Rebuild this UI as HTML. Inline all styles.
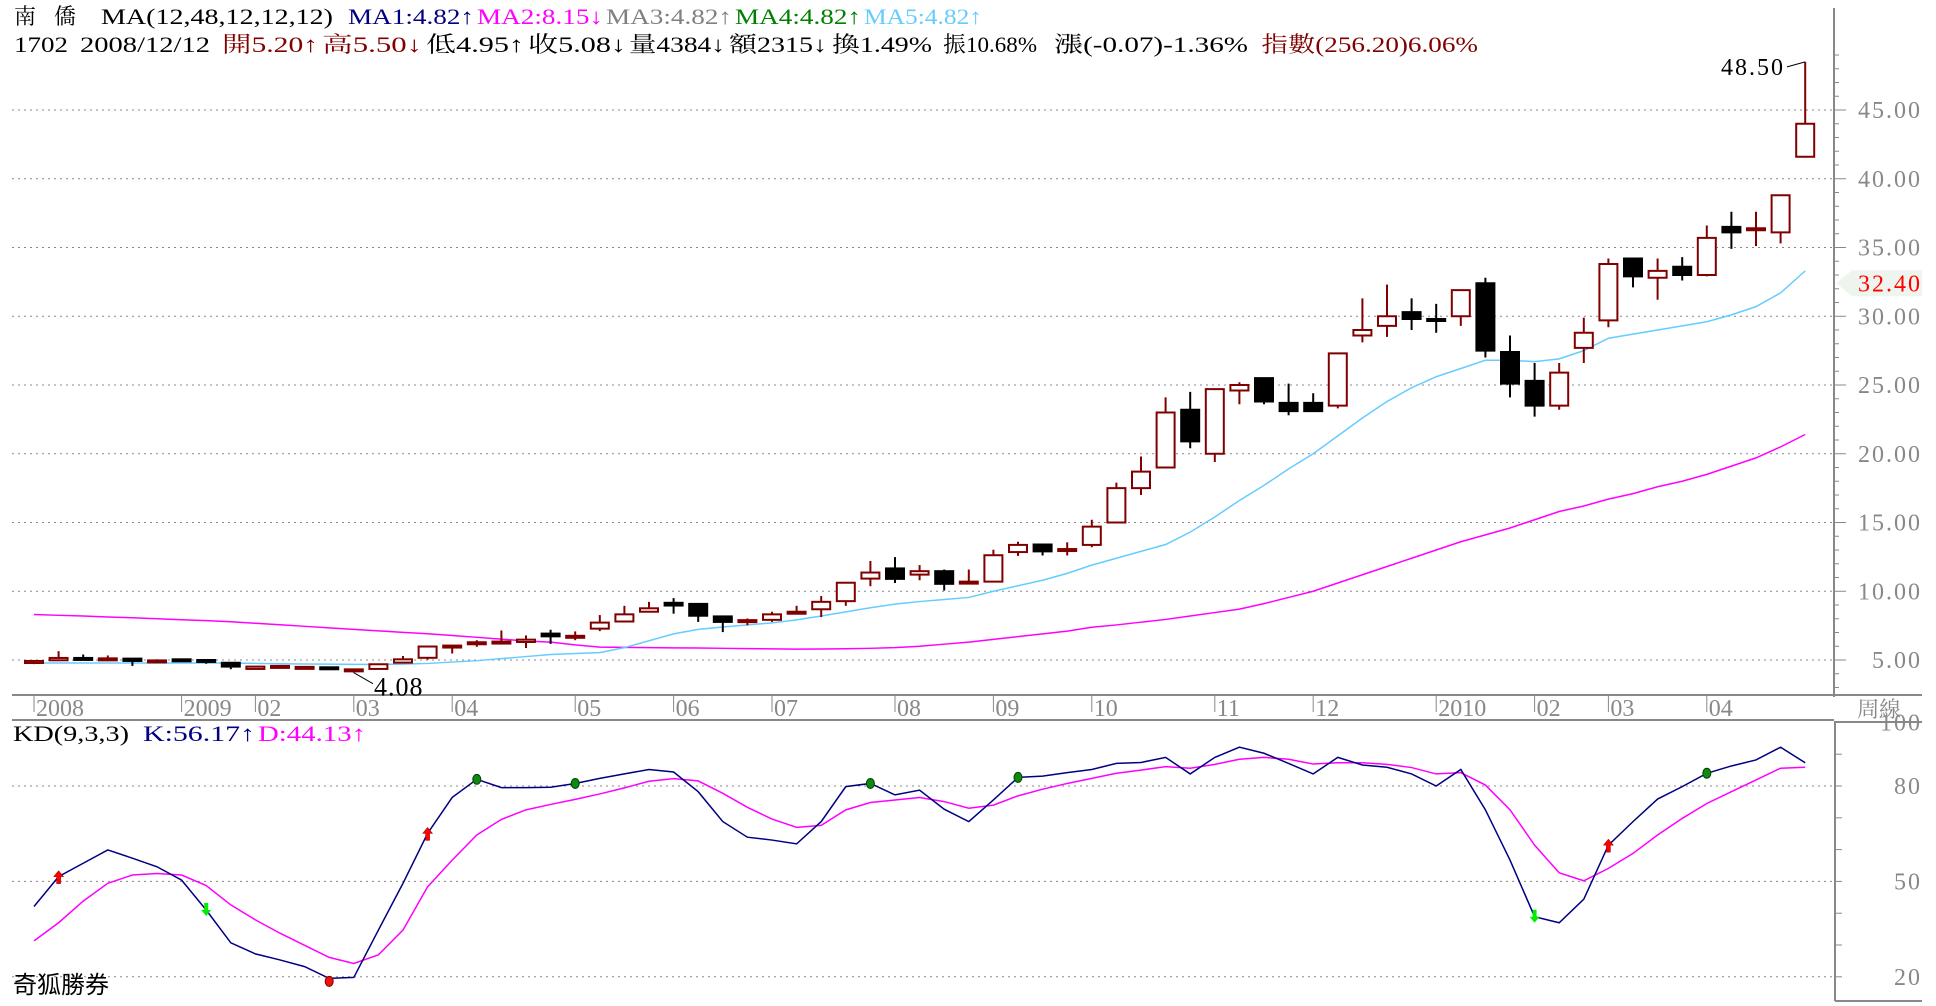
<!DOCTYPE html>
<html><head><meta charset="utf-8"><style>
html,body{margin:0;padding:0;background:#fff;}
svg{display:block;font-family:"Liberation Serif","Noto Serif CJK TC","Noto Sans CJK TC",serif;}
</style></head><body>
<svg id="chart" width="1936" height="1006" viewBox="0 0 1936 1006" xmlns="http://www.w3.org/2000/svg">
<g font-size="22">
<text x="14" y="24" fill="#000">南</text>
<text x="54" y="24" fill="#000">僑</text>
<text x="101" y="24" fill="#000" textLength="232" lengthAdjust="spacingAndGlyphs">MA(12,48,12,12,12)</text>
<text x="348" y="24" fill="#000080" textLength="126" lengthAdjust="spacingAndGlyphs">MA1:4.82↑</text>
<text x="477" y="24" fill="#ff00ff" textLength="126" lengthAdjust="spacingAndGlyphs">MA2:8.15↓</text>
<text x="606" y="24" fill="#808080" textLength="126" lengthAdjust="spacingAndGlyphs">MA3:4.82↑</text>
<text x="735" y="24" fill="#008000" textLength="126" lengthAdjust="spacingAndGlyphs">MA4:4.82↑</text>
<text x="864" y="24" fill="#66ccff" textLength="118" lengthAdjust="spacingAndGlyphs">MA5:4.82↑</text>
<text x="14" y="52" fill="#000" textLength="54" lengthAdjust="spacingAndGlyphs">1702</text>
<text x="80" y="52" fill="#000" textLength="130" lengthAdjust="spacingAndGlyphs">2008/12/12</text>
<text x="222" y="52" fill="#800000" textLength="96" lengthAdjust="spacingAndGlyphs">開5.20↑</text>
<text x="322" y="52" fill="#800000" textLength="100" lengthAdjust="spacingAndGlyphs">高5.50↓</text>
<text x="426" y="52" fill="#000" textLength="98" lengthAdjust="spacingAndGlyphs">低4.95↑</text>
<text x="528" y="52" fill="#000" textLength="98" lengthAdjust="spacingAndGlyphs">收5.08↓</text>
<text x="629" y="52" fill="#000" textLength="96" lengthAdjust="spacingAndGlyphs">量4384↓</text>
<text x="729" y="52" fill="#000" textLength="98" lengthAdjust="spacingAndGlyphs">額2315↓</text>
<text x="832" y="52" fill="#000" textLength="100" lengthAdjust="spacingAndGlyphs">換1.49%</text>
<text x="943" y="52" fill="#000" textLength="94" lengthAdjust="spacingAndGlyphs">振10.68%</text>
<text x="1054" y="52" fill="#000" textLength="194" lengthAdjust="spacingAndGlyphs">漲(-0.07)-1.36%</text>
<text x="1261" y="52" fill="#800000" textLength="217" lengthAdjust="spacingAndGlyphs">指數(256.20)6.06%</text>
</g>
<g id="frame" stroke="#888" stroke-width="2" fill="none">
<line x1="1834" y1="8" x2="1834" y2="697"/>
<line x1="12" y1="695" x2="1922" y2="695"/>
<line x1="12" y1="720" x2="1834" y2="720"/>
<line x1="1834" y1="722" x2="1922" y2="722"/>
<line x1="1835" y1="722" x2="1835" y2="1001"/>
<line x1="1835" y1="1001" x2="1922" y2="1001"/>
</g>
<g id="grid"></g>
<g id="yaxis"></g>
<g id="xaxis"></g>
<g id="ma"></g>
<g id="candles"></g>
<g id="kd"></g>
<text x="1857" y="717" font-size="22" fill="#888">周線</text>
<g font-size="22">
<text x="13" y="741" fill="#000" textLength="116" lengthAdjust="spacingAndGlyphs">KD(9,3,3)</text>
<text x="143" y="741" fill="#000080" textLength="112" lengthAdjust="spacingAndGlyphs">K:56.17↑</text>
<text x="258" y="741" fill="#ff00ff" textLength="108" lengthAdjust="spacingAndGlyphs">D:44.13↑</text>
</g>
<text x="13" y="993" font-size="24" fill="#000" font-family="'Noto Sans CJK TC',sans-serif">奇狐勝券</text>
</svg>
<script>
const opens  = [4.78,4.98,5.15,5.08,5.10,4.88,5.05,5.00,4.80,4.35,4.57,4.50,4.47,4.32,4.35,4.81,5.16,6.05,6.29,6.24,6.31,6.92,6.76,7.28,7.80,8.51,9.16,9.08,8.17,7.90,7.92,8.39,8.69,9.28,10.92,11.66,11.21,11.46,10.70,10.70,12.85,13.40,13.07,13.37,15.0,17.5,19.0,23.2,20.0,24.6,25.5,23.7,23.7,23.5,28.6,29.3,30.3,29.8,30.0,32.4,27.4,25.3,23.5,27.7,29.7,34.2,32.8,33.6,33.0,36.5,36.4,36.1,41.6];
const closes = [4.93,5.15,5.13,5.12,4.93,4.97,4.93,4.86,4.52,4.52,4.57,4.50,4.35,4.32,4.69,5.05,5.98,6.05,6.29,6.34,6.48,6.72,6.76,7.72,8.32,8.76,8.96,8.22,7.77,7.90,8.32,8.51,9.23,10.62,11.36,10.90,11.46,10.54,10.70,12.62,13.37,12.90,13.07,14.70,17.5,18.7,23.0,20.9,24.7,25.0,23.8,23.1,23.1,27.3,29.0,30.0,29.8,29.7,31.9,27.5,25.1,23.5,25.9,28.8,33.8,32.9,33.3,33.0,35.7,36.1,36.4,38.8,44.0];
const highs  = [4.95,5.64,5.40,5.33,5.10,5.05,5.10,5.00,4.80,4.52,4.62,4.52,4.47,4.32,4.69,5.29,5.98,6.05,6.44,7.15,6.79,7.20,7.08,8.27,8.94,9.23,9.50,9.08,8.17,8.02,8.51,8.94,9.65,10.62,12.20,12.48,11.90,11.58,11.58,13.02,13.60,13.46,13.56,15.20,17.9,19.8,24.1,24.5,24.7,25.2,25.5,25.1,24.4,27.3,31.3,32.3,31.3,30.9,31.9,32.8,28.6,26.6,26.6,29.9,34.2,34.2,34.2,34.3,36.6,37.6,37.6,38.8,48.5];
const lows   = [4.70,4.93,4.95,4.95,4.57,4.85,4.90,4.73,4.33,4.33,4.52,4.33,4.35,4.08,4.33,4.81,5.03,5.47,5.96,6.24,5.87,6.17,6.44,7.10,7.80,8.47,8.37,7.77,7.03,7.52,7.77,8.39,8.12,8.94,10.37,10.60,10.80,10.05,10.70,10.70,12.57,12.60,12.60,13.20,15.0,17.0,19.0,20.4,19.4,23.6,23.6,22.8,23.1,23.3,28.1,28.5,29.0,28.8,29.3,27.0,24.1,22.7,23.2,26.6,29.2,32.1,31.2,32.6,32.9,34.9,35.1,35.3,41.6];
const ma12 = [4.78,4.78,4.78,4.78,4.78,4.78,4.78,4.78,4.77,4.75,4.73,4.71,4.70,4.68,4.68,4.70,4.75,4.85,4.95,5.10,5.25,5.40,5.47,5.54,5.90,6.40,6.90,7.23,7.40,7.55,7.70,7.92,8.20,8.50,8.80,9.06,9.25,9.40,9.55,10.00,10.40,10.80,11.30,11.90,12.40,12.90,13.40,14.30,15.40,16.60,17.70,18.90,20.00,21.30,22.60,23.80,24.80,25.60,26.20,26.80,26.80,26.70,26.90,27.50,28.40,28.70,29.00,29.30,29.60,30.10,30.70,31.70,33.30];
const ma48 = [8.31,8.25,8.20,8.13,8.07,8.00,7.93,7.86,7.78,7.67,7.56,7.45,7.34,7.23,7.12,7.01,6.91,6.78,6.65,6.52,6.38,6.30,6.10,5.94,5.92,5.90,5.88,5.87,5.85,5.83,5.81,5.79,5.80,5.82,5.85,5.90,6.00,6.15,6.30,6.50,6.70,6.90,7.10,7.38,7.55,7.75,7.95,8.20,8.45,8.70,9.10,9.55,10.00,10.60,11.20,11.80,12.40,13.00,13.60,14.10,14.60,15.20,15.80,16.20,16.70,17.10,17.60,18.00,18.50,19.10,19.70,20.50,21.40];
const kVals = [42.1,51.5,55.7,59.9,57.3,54.6,50.4,41.0,30.7,27.2,25.3,23.2,19.5,19.8,34.7,49.4,65.1,76.4,82.1,79.5,79.5,79.6,80.8,82.4,83.8,85.2,84.4,78.2,68.8,63.9,63.0,61.8,68.8,79.8,80.8,77.2,78.7,72.7,68.8,75.6,82.7,83.1,84.2,85.2,87.1,87.4,89.0,83.8,89.0,92.2,90.3,87.1,83.8,89.0,86.6,85.9,83.8,80.0,85.2,72.5,56.7,38.9,37.0,44.4,61.4,68.8,75.9,79.8,84.0,86.3,88.2,92.2,87.3];
const dVals = [31.3,37.0,43.8,49.4,52.0,52.5,52.0,48.7,42.6,37.9,33.7,29.9,26.1,24.2,26.9,34.7,48.3,56.7,64.6,69.5,72.5,74.2,75.8,77.5,79.4,81.5,82.3,81.6,77.7,73.3,69.6,67.0,67.6,72.5,74.8,75.6,76.4,75.1,73.0,74.0,76.9,79.0,80.8,82.4,84.0,85.0,86.1,85.6,86.8,88.4,89.0,88.4,86.9,87.3,87.3,86.8,85.8,83.8,84.2,80.3,72.5,61.4,52.7,50.2,54.1,58.8,64.6,69.8,74.5,78.2,81.9,85.6,85.9];
const priceTicks = [5,10,15,20,25,30,35,40,45];
const kdTicks = [20,50,80];
const monthLabels = ["2008","2009","02","03","04","05","06","07","08","09","10","11","12","2010","02","03","04"];
const monthIndex = [0,6,9,13,17,22,26,30,35,39,43,48,52,57,61,64,68];
const upSignals = [1,16,64];
const downSignals = [7,61];
const greenDots = [18,22,34,40,68];
const redDots = [12];
const lastPrice = 32.40;

const NS="http://www.w3.org/2000/svg";
const xOf = i => 34 + i*24.6;
const yP = p => 660 - (p-5)*13.75;
const yK = k => 786 + (80-k)*3.18;
function mk(tag, attrs, parent){const e=document.createElementNS(NS,tag);for(const k in attrs)e.setAttribute(k,attrs[k]);parent.appendChild(e);return e;}

const grid=document.getElementById('grid');
const yaxis=document.getElementById('yaxis');
priceTicks.forEach(p=>{
  const l=mk('line',{x1:12,x2:1834,y1:yP(p),y2:yP(p),stroke:'#888','stroke-dasharray':'2,4','stroke-width':1},grid);
  
  
  const t=mk('text',{x:1922,y:yP(p)+8,'text-anchor':'end','font-size':24,fill:'#888','letter-spacing':'2'},yaxis);
  t.textContent=p.toFixed(2);
  
  
});
for(let p=3;p<=49;p++){
  const major=p%5===0;
  const tk=mk('line',{x1:1834,x2:major?1846:1839,y1:yP(p),y2:yP(p),stroke:'#888','stroke-width':1},yaxis);
  
  
}
kdTicks.forEach(k=>{
  const l=mk('line',{x1:12,x2:1834,y1:yK(k),y2:yK(k),stroke:'#888','stroke-dasharray':'2,4','stroke-width':1},grid);
  
  
});
[20,50,80,100].forEach(k=>{
  const t=mk('text',{x:1922,y:yK(k)+8,'text-anchor':'end','font-size':24,fill:'#888','letter-spacing':'2'},yaxis);
  t.textContent=String(k);
  
  
});
for(let k=20;k<=100;k+=10){
  const tk=mk('line',{x1:1835,x2:1842,y1:yK(k),y2:yK(k),stroke:'#888','stroke-width':1},yaxis);
  
  
}
// current price tag
const tag=mk('polygon',{points:`1836,${yP(lastPrice)} 1852,${yP(lastPrice)-13} 1922,${yP(lastPrice)-13} 1922,${yP(lastPrice)+13} 1852,${yP(lastPrice)+13}`,fill:'#eef5ee'},yaxis);


const lt=mk('text',{x:1922,y:yP(lastPrice)+8,'text-anchor':'end','font-size':24,fill:'#ff0000','letter-spacing':'2'},yaxis);
lt.textContent=lastPrice.toFixed(2);



const xaxis=document.getElementById('xaxis');
monthLabels.forEach((lab,j)=>{
  const x=xOf(monthIndex[j]);
  const tk=mk('line',{x1:x,x2:x,y1:695,y2:712,stroke:'#888','stroke-width':1},xaxis);
  
  
  const t=mk('text',{x:x+2,y:716,'font-size':24,fill:'#888'},xaxis);
  t.textContent=lab;
  
  
});

const ma=document.getElementById('ma');
function poly(vals,fy,color,name,parent){
  const pts=vals.map((v,i)=>xOf(i)+','+fy(v)).join(' ');
  const pl=mk('polyline',{points:pts,fill:'none',stroke:color,'stroke-width':1.5},parent);
  
  
}
poly(ma48,yP,'#ff00ff','ma48-line',ma);
poly(ma12,yP,'#66ccff','ma12-line',ma);

const cg=document.getElementById('candles');
for(let i=0;i<opens.length;i++){
  const x=xOf(i),o=opens[i],c=closes[i];
  const up=c>=o; const col=up?'#800000':'#000';
  const w=mk('line',{x1:x,x2:x,y1:yP(highs[i]),y2:yP(lows[i]),stroke:col,'stroke-width':2},cg);
  
  
  const top=yP(Math.max(o,c)),bot=yP(Math.min(o,c));
  const h=Math.max(bot-top,2);
  const r=mk('rect',{x:x-9,y:top,width:18,height:h,fill:up?'#fff':'#000',stroke:col,'stroke-width':2},cg);
  
  
}
// annotations
const iMax=highs.indexOf(Math.max(...highs)), iMin=lows.indexOf(Math.min(...lows));
const a1=mk('polyline',{points:`1787,${yP(highs[iMax])+5} ${xOf(iMax)},${yP(highs[iMax])}`,fill:'none',stroke:'#000','stroke-width':1},cg);


const at1=mk('text',{x:1785,y:yP(highs[iMax])+13,'text-anchor':'end','font-size':24,fill:'#000','letter-spacing':'2'},cg);
at1.textContent=highs[iMax].toFixed(2);


const a2=mk('line',{x1:xOf(iMin),y1:yP(lows[iMin]),x2:373,y2:yP(lows[iMin])+11,stroke:'#000','stroke-width':1},cg);


const at2=mk('text',{x:374,y:yP(lows[iMin])+23,'font-size':26,fill:'#000','letter-spacing':'1'},cg);
at2.textContent=lows[iMin].toFixed(2);



const kd=document.getElementById('kd');
poly(dVals,yK,'#ff00ff','d-line',kd);
poly(kVals,yK,'#000080','k-line',kd);
upSignals.forEach(i=>{
  const x=xOf(i),y=yK(kVals[i]);
  const a=mk('path',{d:`M${x},${y-6} L${x+5},${y} L${x+2},${y} L${x+2},${y+7} L${x-2},${y+7} L${x-2},${y} L${x-5},${y} Z`,fill:'#ff0000',stroke:'#800000','stroke-width':0.5},kd);
  
  
});
downSignals.forEach(i=>{
  const x=xOf(i),y=yK(kVals[i]);
  const a=mk('path',{d:`M${x},${y+6} L${x+5},${y} L${x+2},${y} L${x+2},${y-7} L${x-2},${y-7} L${x-2},${y} L${x-5},${y} Z`,fill:'#00ee00'},kd);
  
  
});
greenDots.forEach(i=>{
  const d=mk('ellipse',{cx:xOf(i),cy:yK(kVals[i]),rx:4,ry:5,fill:'#118811',stroke:'#004400','stroke-width':1},kd);
  
  
});
redDots.forEach(i=>{
  const d=mk('ellipse',{cx:xOf(i),cy:yK(kVals[i])+3,rx:4,ry:5,fill:'#ee1111',stroke:'#880000','stroke-width':1},kd);
  
  
});
</script>
</body></html>
